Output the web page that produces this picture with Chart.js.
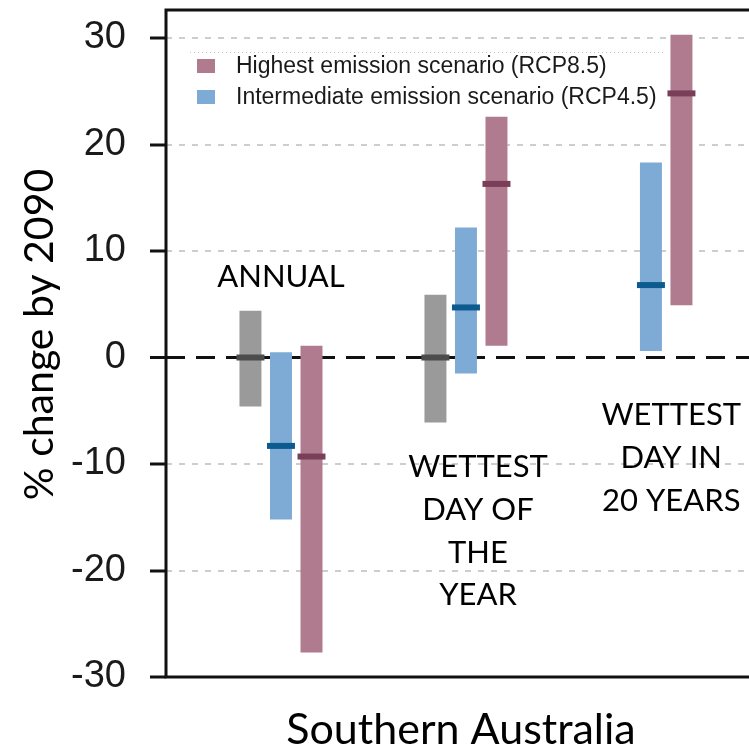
<!DOCTYPE html>
<html>
<head>
<meta charset="utf-8">
<script src="https://cdn.jsdelivr.net/npm/chart.js@4.4.1/dist/chart.umd.min.js"></script>
<style>
  html, body { margin: 0; padding: 0; overflow: hidden; background: #fff; }
  #wrap { width: 760px; height: 748px; }
</style>
</head>
<body>
<div id="wrap"><canvas id="c" width="760" height="748"></canvas></div>
<script>
// Projected change in rainfall by 2090, Southern Australia
const groups = [1, 2, 3];
const groupLabels = [
  ['ANNUAL'],
  ['WETTEST', 'DAY OF', 'THE', 'YEAR'],
  ['WETTEST', 'DAY IN', '20 YEARS']
];
// natural variability (only for the first two indices)
const naturalRange = [[-4.6, 4.4], [-6.1, 5.9]];
const naturalMedian = [0, 0];
// intermediate emission scenario
const rcp45Range = [[-15.2, 0.5], [-1.5, 12.2], [0.6, 18.3]];
const rcp45Median = [-8.3, 4.7, 6.8];
// highest emission scenario
const rcp85Range = [[-27.7, 1.1], [1.1, 22.6], [4.9, 30.3]];
const rcp85Median = [-9.3, 16.3, 24.8];
const yTicks = [-30, -20, -10, 0, 10, 20, 30];
const legendLabels = ['Highest emission scenario (RCP8.5)', 'Intermediate emission scenario (RCP4.5)'];
const yTitle = '% change by 2090';
const xTitle = 'Southern Australia';

const COLORS = {
  natural: '#9a9a9a', naturalMid: '#4c4c4c',
  rcp45: '#7eabd6', rcp45Mid: '#0d5a8e',
  rcp85: '#b07a8f', rcp85Mid: '#7a3f58'
};

function points(ranges) {
  return ranges.map((r, i) => ({ x: groups[i], y: r }));
}

// median ticks across each bar
const medianPlugin = {
  id: 'medians',
  afterDatasetsDraw(chart) {
    const ctx = chart.ctx;
    const ys = chart.scales.y;
    chart.data.datasets.forEach((ds, di) => {
      const meta = chart.getDatasetMeta(di);
      meta.data.forEach((bar, j) => {
        const m = ds.medians[j];
        if (m === undefined || m === null) return;
        const y = ys.getPixelForValue(m);
        ctx.save();
        ctx.fillStyle = ds.medianColor;
        ctx.fillRect(bar.x - bar.width / 2 - 3, y - 3, bar.width + 6, 6);
        ctx.restore();
      });
    });
  }
};

// box frame, legend, panel labels and y title
const decorPlugin = {
  id: 'decor',
  afterDraw(chart) {
    const ctx = chart.ctx;
    const a = chart.chartArea;
    const xs = chart.scales.x, ys = chart.scales.y;
    ctx.save();
    // frame
    ctx.strokeStyle = '#111';
    ctx.lineWidth = 3;
    ctx.strokeRect(a.left, a.top, a.right - a.left, a.bottom - a.top);

    // legend
    ctx.strokeStyle = '#c4c4c4';
    ctx.lineWidth = 1;
    ctx.setLineDash([1, 3]);
    ctx.beginPath();
    ctx.moveTo(a.left + 24, a.top + 42.5);
    ctx.lineTo(a.left + 498, a.top + 42.5);
    ctx.stroke();
    ctx.setLineDash([]);
    const legendColors = [COLORS.rcp85, COLORS.rcp45];
    ctx.font = '23px "Liberation Sans", Arial, sans-serif';
    ctx.textBaseline = 'middle';
    ctx.textAlign = 'left';
    legendLabels.forEach((t, i) => {
      const cy = a.top + 56 + i * 31;
      ctx.fillStyle = legendColors[i];
      ctx.fillRect(a.left + 31, cy - 7, 18, 14);
      ctx.fillStyle = '#1a1a1a';
      ctx.fillText(t, a.left + 70, cy + 1);
    });

    // panel labels
    const anchors = [{ x: 1, y: 7.7 }, { x: 2.065, y: -10.2 }, { x: 3.11, y: -5.35 }];
    ctx.font = '31px Lato, "Open Sans", sans-serif';
    ctx.fillStyle = '#000';
    ctx.textAlign = 'center';
    groupLabels.forEach((lines, i) => {
      const px = xs.getPixelForValue(anchors[i].x);
      const py = ys.getPixelForValue(anchors[i].y);
      lines.forEach((ln, k) => ctx.fillText(ln, px, py + k * 42.7 + 1));
    });

    // y title
    ctx.font = '41px Lato, "Open Sans", sans-serif';
    ctx.translate(40, (a.top + a.bottom) / 2 - 9);
    ctx.rotate(-Math.PI / 2);
    ctx.fillText(yTitle, 0, 0);
    ctx.restore();
  }
};

const gridDash = (c) => (c.tick && c.tick.value === 0) ? [19, 11] : [6, 7];

new Chart(document.getElementById('c'), {
  type: 'bar',
  data: {
    datasets: [
      { label: 'Natural variability', data: points(naturalRange), medians: naturalMedian,
        backgroundColor: COLORS.natural, medianColor: COLORS.naturalMid },
      { label: legendLabels[1], data: points(rcp45Range), medians: rcp45Median,
        backgroundColor: COLORS.rcp45, medianColor: COLORS.rcp45Mid },
      { label: legendLabels[0], data: points(rcp85Range), medians: rcp85Median,
        backgroundColor: COLORS.rcp85, medianColor: COLORS.rcp85Mid }
    ]
  },
  options: {
    responsive: false,
    animation: false,
    events: [],
    categoryPercentage: 0.495,
    barPercentage: 0.72,
    layout: { padding: { left: 0, right: 4, top: 10, bottom: 0 } },
    plugins: { legend: { display: false }, tooltip: { enabled: false } },
    scales: {
      x: {
        type: 'linear',
        offset: false,
        min: 0.3784,
        max: 3.568,
        afterBuildTicks: (s) => { s.ticks = groups.map(v => ({ value: v })); },
        afterFit: (s) => { s.height = 71; s.paddingLeft = 0; s.paddingRight = 0; },
        ticks: { display: false },
        grid: { display: false },
        border: { display: false },
        title: {
          display: true, text: xTitle, color: '#000',
          font: { family: 'Lato, "Open Sans", sans-serif', size: 43, lineHeight: 1 },
          padding: { top: 0, bottom: -4 }
        }
      },
      y: {
        min: -30,
        max: 32.63,
        afterBuildTicks: (s) => { s.ticks = yTicks.map(v => ({ value: v })); },
        afterFit: (s) => { s.width = 166; s.paddingTop = 0; s.paddingBottom = 0; },
        ticks: {
          color: '#1a1a1a',
          padding: 24,
          font: { family: '"Liberation Sans", Arial, sans-serif', size: 38 },
          callback: (v) => String(v)
        },
        grid: {
          drawTicks: true,
          tickLength: 16,
          tickWidth: 3,
          tickColor: '#111',
          tickBorderDash: [],
          color: (c) => (c.tick && c.tick.value === 0) ? '#111' : '#cdcdcd',
          lineWidth: (c) => (c.tick && c.tick.value === 0) ? 3 : 2,
          borderDash: gridDash
        },
        border: { display: false, dash: gridDash }
      }
    }
  },
  plugins: [medianPlugin, decorPlugin]
});
</script>
</body>
</html>
